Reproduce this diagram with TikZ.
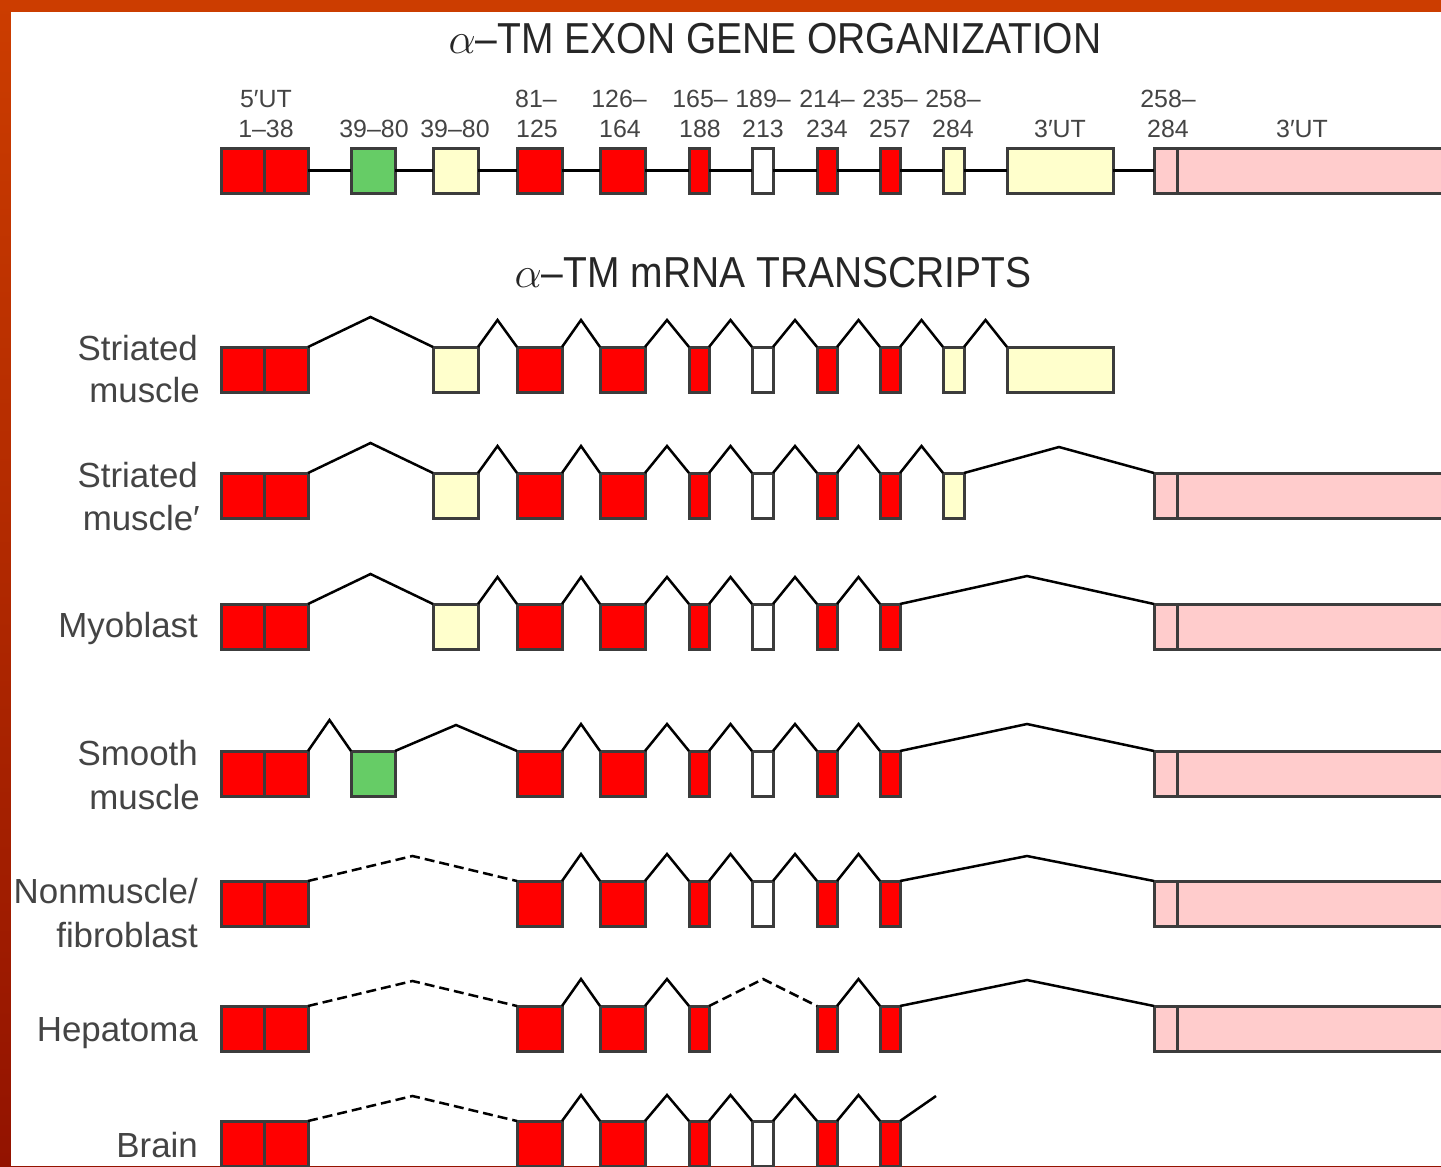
\RequirePackage{fix-cm}
\documentclass[tikz,border=0pt]{standalone}
\usepackage{fontspec}
\setmainfont{Liberation Sans}
\newfontfamily\condfont{Liberation Sans}[FakeStretch=0.9]
\usetikzlibrary{calc}
\definecolor{exred}{HTML}{FF0000}
\definecolor{exgreen}{HTML}{66CC66}
\definecolor{exyellow}{HTML}{FFFFCC}
\definecolor{expink}{HTML}{FFCCCC}
\definecolor{exline}{HTML}{3C3C3C}
\definecolor{txt}{HTML}{444444}
\definecolor{ttxt}{HTML}{262626}
\definecolor{bordtop}{HTML}{CC3D00}
\definecolor{bordbot}{HTML}{931300}
\newcommand{\xb}[5]{\node[#1, minimum width=#4bp] (#2) at (#3,#5) {};}
\newcommand{\firstex}[2]{\node[rd, minimum width=87bp] (#1) at (221,#2) {};
  \draw[divl] (#1.north) -- (#1.south);}
\newcommand{\pinkex}[2]{\node[pk, minimum width=320bp] (#1) at (1154,#2) {};
  \draw[divl] ($(#1.north west)+(23,0)$) -- ($(#1.south west)+(23,0)$);}
\newcommand{\spl}[4][conn]{\draw[#1] (#2.north east) -- ($(#2.north east)!.5!(#3.north west)+(0,-#4)$) -- (#3.north west);}
\begin{document}
\begin{tikzpicture}[x=1bp,y=-1bp,
  exon/.style={rectangle, draw=exline, line width=3bp, minimum height=45bp,
    inner sep=0pt, outer sep=0pt, anchor=north west},
  rd/.style={exon, fill=exred},
  gr/.style={exon, fill=exgreen},
  yl/.style={exon, fill=exyellow},
  wt/.style={exon, fill=white},
  pk/.style={exon, fill=expink},
  divl/.style={draw=exline, line width=3bp},
  conn/.style={draw=black, line width=2.5bp, line join=miter},
  dsh/.style={conn, dash pattern=on 10bp off 5bp},
  lbl/.style={font=\fontsize{35}{36}\selectfont, text=txt, anchor=base east, inner sep=0pt},
  glbl/.style={font=\fontsize{25}{26}\selectfont, text=txt, anchor=base, inner sep=0pt},
  ttl/.style={font=\condfont\fontsize{43.5}{45}\selectfont, text=ttxt, anchor=base, inner sep=0pt}]
\useasboundingbox (0,0) rectangle (1441,1166);
\clip (0,0) rectangle (1441,1166);
\shade[top color=bordtop, bottom color=bordbot] (0,0) rectangle (1441,1166);
\fill[white] (11,12) rectangle (1441,1166);

% ---------- titles
\node[ttl] (t1) at (775,53) {$\alpha$–TM EXON GENE ORGANIZATION};
\node[ttl] (t2) at (773,287) {$\alpha$–TM mRNA TRANSCRIPTS};

% ---------- gene organization
\firstex{g1}{148}
\xb{gr}{g2a}{351}{44}{148}
\xb{yl}{g2b}{433}{45}{148}
\xb{rd}{g3}{517}{45}{148}
\xb{rd}{g4}{600}{45}{148}
\xb{rd}{g5}{689}{20}{148}
\xb{wt}{g6}{752}{21}{148}
\xb{rd}{g7}{817}{20}{148}
\xb{rd}{g8}{880}{20}{148}
\xb{yl}{g9a}{943}{21}{148}
\xb{yl}{g9b}{1007}{106}{148}
\pinkex{g9c}{148}
\foreach \a/\b in {g1/g2a,g2a/g2b,g2b/g3,g3/g4,g4/g5,g5/g6,g6/g7,g7/g8,g8/g9a,g9a/g9b,g9b/g9c}
  \draw[conn] (\a.east) -- (\b.west);

\node[glbl] (la1) at (266,107) {5′UT};
\node[glbl] (la2) at (266,137) {1–38};
\node[glbl] (lb2) at (374,137) {39–80};
\node[glbl] (lc2) at (455,137) {39–80};
\node[glbl] (ld1) at (536,107) {81–};
\node[glbl] (ld2) at (537,137) {125};
\node[glbl] (le1) at (619,107) {126–};
\node[glbl] (le2) at (620,137) {164};
\node[glbl] (lf1) at (700,107) {165–};
\node[glbl] (lf2) at (700,137) {188};
\node[glbl] (lg1) at (763,107) {189–};
\node[glbl] (lg2) at (763,137) {213};
\node[glbl] (lh1) at (827,107) {214–};
\node[glbl] (lh2) at (827,137) {234};
\node[glbl] (li1) at (890,107) {235–};
\node[glbl] (li2) at (890,137) {257};
\node[glbl] (lj1) at (953,107) {258–};
\node[glbl] (lj2) at (953,137) {284};
\node[glbl] (lk2) at (1060,137) {3′UT};
\node[glbl] (ll1) at (1168,107) {258–};
\node[glbl] (ll2) at (1168,137) {284};
\node[glbl] (lm2) at (1302,137) {3′UT};

% ---------- row 1: striated muscle
\firstex{r1a}{347}
\xb{yl}{r1b}{433}{45}{347}
\xb{rd}{r1c}{517}{45}{347}
\xb{rd}{r1d}{600}{45}{347}
\xb{rd}{r1e}{689}{20}{347}
\xb{wt}{r1f}{752}{21}{347}
\xb{rd}{r1g}{817}{20}{347}
\xb{rd}{r1h}{880}{20}{347}
\xb{yl}{r1i}{943}{21}{347}
\xb{yl}{r1j}{1007}{106}{347}
\spl{r1a}{r1b}{30}
\foreach \a/\b in {r1b/r1c,r1c/r1d,r1d/r1e,r1e/r1f,r1f/r1g,r1g/r1h,r1h/r1i,r1i/r1j}
  {\spl{\a}{\b}{27}}
\node[lbl] (n1a) at (198,360) {Striated};
\node[lbl] (n1b) at (200,402) {muscle};

% ---------- row 2: striated muscle'
\firstex{r2a}{473}
\xb{yl}{r2b}{433}{45}{473}
\xb{rd}{r2c}{517}{45}{473}
\xb{rd}{r2d}{600}{45}{473}
\xb{rd}{r2e}{689}{20}{473}
\xb{wt}{r2f}{752}{21}{473}
\xb{rd}{r2g}{817}{20}{473}
\xb{rd}{r2h}{880}{20}{473}
\xb{yl}{r2i}{943}{21}{473}
\pinkex{r2j}{473}
\spl{r2a}{r2b}{30}
\foreach \a/\b in {r2b/r2c,r2c/r2d,r2d/r2e,r2e/r2f,r2f/r2g,r2g/r2h,r2h/r2i}
  {\spl{\a}{\b}{27}}
\spl{r2i}{r2j}{26}
\node[lbl] (n2a) at (198,487) {Striated};
\node[lbl] (n2b) at (200,530) {muscle′};

% ---------- row 3: myoblast
\firstex{r3a}{604}
\xb{yl}{r3b}{433}{45}{604}
\xb{rd}{r3c}{517}{45}{604}
\xb{rd}{r3d}{600}{45}{604}
\xb{rd}{r3e}{689}{20}{604}
\xb{wt}{r3f}{752}{21}{604}
\xb{rd}{r3g}{817}{20}{604}
\xb{rd}{r3h}{880}{20}{604}
\pinkex{r3j}{604}
\spl{r3a}{r3b}{30}
\foreach \a/\b in {r3b/r3c,r3c/r3d,r3d/r3e,r3e/r3f,r3f/r3g,r3g/r3h}
  {\spl{\a}{\b}{27}}
\spl{r3h}{r3j}{28}
\node[lbl] (n3a) at (198,637) {Myoblast};

% ---------- row 4: smooth muscle
\firstex{r4a}{751}
\xb{gr}{r4b}{351}{44}{751}
\xb{rd}{r4c}{517}{45}{751}
\xb{rd}{r4d}{600}{45}{751}
\xb{rd}{r4e}{689}{20}{751}
\xb{wt}{r4f}{752}{21}{751}
\xb{rd}{r4g}{817}{20}{751}
\xb{rd}{r4h}{880}{20}{751}
\pinkex{r4j}{751}
\spl{r4a}{r4b}{31}
\spl{r4b}{r4c}{26}
\foreach \a/\b in {r4c/r4d,r4d/r4e,r4e/r4f,r4f/r4g,r4g/r4h,r4h/r4j}
  {\spl{\a}{\b}{27}}
\node[lbl] (n4a) at (198,765) {Smooth};
\node[lbl] (n4b) at (200,809) {muscle};

% ---------- row 5: nonmuscle / fibroblast
\firstex{r5a}{881}
\xb{rd}{r5c}{517}{45}{881}
\xb{rd}{r5d}{600}{45}{881}
\xb{rd}{r5e}{689}{20}{881}
\xb{wt}{r5f}{752}{21}{881}
\xb{rd}{r5g}{817}{20}{881}
\xb{rd}{r5h}{880}{20}{881}
\pinkex{r5j}{881}
\spl[dsh]{r5a}{r5c}{25}
\foreach \a/\b in {r5c/r5d,r5d/r5e,r5e/r5f,r5f/r5g,r5g/r5h}
  {\spl{\a}{\b}{27}}
\spl{r5h}{r5j}{25}
\node[lbl] (n5a) at (198,903) {Nonmuscle/};
\node[lbl] (n5b) at (198,947) {fibroblast};

% ---------- row 6: hepatoma
\firstex{r6a}{1006}
\xb{rd}{r6c}{517}{45}{1006}
\xb{rd}{r6d}{600}{45}{1006}
\xb{rd}{r6e}{689}{20}{1006}
\xb{rd}{r6g}{817}{20}{1006}
\xb{rd}{r6h}{880}{20}{1006}
\pinkex{r6j}{1006}
\spl[dsh]{r6a}{r6c}{25}
\spl{r6c}{r6d}{27}
\spl{r6d}{r6e}{27}
\spl[dsh]{r6e}{r6g}{27}
\spl{r6g}{r6h}{27}
\spl{r6h}{r6j}{26}
\node[lbl] (n6a) at (198,1041) {Hepatoma};

% ---------- row 7: brain
\firstex{r7a}{1121}
\xb{rd}{r7c}{517}{45}{1121}
\xb{rd}{r7d}{600}{45}{1121}
\xb{rd}{r7e}{689}{20}{1121}
\xb{wt}{r7f}{752}{21}{1121}
\xb{rd}{r7g}{817}{20}{1121}
\xb{rd}{r7h}{880}{20}{1121}
\coordinate (r7end) at (936,1096);
\spl[dsh]{r7a}{r7c}{25}
\foreach \a/\b in {r7c/r7d,r7d/r7e,r7e/r7f,r7f/r7g,r7g/r7h}
  {\spl{\a}{\b}{26}}
\draw[conn] (r7h.north east) -- (r7end);
\node[lbl] (n7a) at (198,1157) {Brain};
\end{tikzpicture}
\end{document}
